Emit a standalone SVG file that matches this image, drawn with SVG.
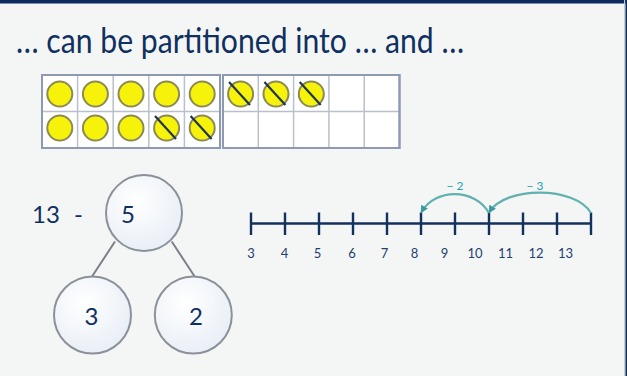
<svg xmlns="http://www.w3.org/2000/svg" width="627" height="376" viewBox="0 0 627 376">
<defs>
<style>
.t{font-family:Lato,"Liberation Sans",sans-serif;fill:#10305f}
.grid{fill:none;stroke:#b9c0cc;stroke-width:1.5}
.frame{fill:#ffffff;stroke:#8d9ab2;stroke-width:2}
.cnt{fill:#f7f20a;stroke:#8b8a55;stroke-width:2}
.x{stroke:#1f3550;stroke-width:2.2}
.bond{fill:url(#bg);stroke:#8b9099;stroke-width:2}
.link{stroke:#7d8088;stroke-width:2}
.nl{stroke:#13315f;stroke-width:2.4}
.arc{fill:none;stroke:#62b0b0;stroke-width:2.2;marker-end:url(#ah)}
.lab{font-family:Lato,"Liberation Sans",sans-serif;fill:#1f4070;font-size:13px;text-anchor:middle}
.jl{font-family:Lato,"Liberation Sans",sans-serif;fill:#2aa0b0;font-size:12px}
</style>
<radialGradient id="bg" cx="0.4" cy="0.35" r="0.7">
<stop offset="0" stop-color="#ffffff"/>
<stop offset="1" stop-color="#e8eef6"/>
</radialGradient>
<marker id="ah" viewBox="0 0 10 10" refX="8" refY="5" markerWidth="3.5" markerHeight="3.5" orient="auto">
<path d="M0,0 L10,5 L0,10 z" fill="#3c9a9c"/>
</marker>
</defs>
<rect width="627" height="376" fill="#f4f6f6"/>
<rect x="0" y="0" width="627" height="3.5" fill="#0d2b5c"/>
<rect x="624" y="0" width="1.2" height="376" fill="#c8ccd0"/>
<rect x="625.5" y="0" width="1.5" height="376" fill="#0d2b5c"/>

<g id="title">
<text class="t" x="16" y="53" font-size="34" textLength="448" lengthAdjust="spacingAndGlyphs">… can be partitioned into … and …</text>
</g>

<g id="tenframe-left">
<rect class="frame" x="42" y="75" width="178" height="73"/>
<path class="grid" d="M77.6,75V148M113.2,75V148M148.8,75V148M184.4,75V148M42,111.5H220"/>
<rect x="42" y="75" width="178" height="73" fill="none" stroke="#8d9ab2" stroke-width="2"/>
<circle class="cnt" cx="59.8" cy="94" r="12.5"/>
<circle class="cnt" cx="95.4" cy="94" r="12.5"/>
<circle class="cnt" cx="131" cy="94" r="12.5"/>
<circle class="cnt" cx="166.6" cy="94" r="12.5"/>
<circle class="cnt" cx="202.2" cy="94" r="12.5"/>
<circle class="cnt" cx="59.8" cy="128" r="12.5"/>
<circle class="cnt" cx="95.4" cy="128" r="12.5"/>
<circle class="cnt" cx="131" cy="128" r="12.5"/>
<circle class="cnt" cx="166.6" cy="128" r="12.5"/>
<line class="x" x1="155" y1="116" x2="176" y2="139"/>
<circle class="cnt" cx="202.2" cy="128" r="12.5"/>
<line class="x" x1="190.6" y1="116" x2="211.6" y2="139"/>
</g>

<g id="tenframe-right">
<rect class="frame" x="223" y="75" width="176.5" height="73"/>
<path class="grid" d="M258.3,75V148M293.6,75V148M328.9,75V148M364.2,75V148M223,111.5H399.5"/>
<rect x="223" y="75" width="176.5" height="73" fill="none" stroke="#8d9ab2" stroke-width="2"/>
<circle class="cnt" cx="240.6" cy="94" r="12.5"/>
<line class="x" x1="229" y1="82" x2="250" y2="105"/>
<circle class="cnt" cx="276" cy="94" r="12.5"/>
<line class="x" x1="264.4" y1="82" x2="285.4" y2="105"/>
<circle class="cnt" cx="311.3" cy="94" r="12.5"/>
<line class="x" x1="299.7" y1="82" x2="320.7" y2="105"/>
</g>

<g id="connectors">
<line class="link" x1="115" y1="241.5" x2="91.7" y2="277"/>
<line class="link" x1="171.7" y1="241.5" x2="195" y2="277"/>
</g>

<g id="label-13">
<text class="t" x="32" y="222.5" font-size="24">13</text>
<text class="t" x="74" y="222.5" font-size="24">-</text>
</g>

<g id="bond-top">
<circle class="bond" cx="144" cy="213" r="38"/>
<text class="t" x="128" y="223" font-size="24" text-anchor="middle">5</text>
</g>
<g id="bond-left">
<circle class="bond" cx="92.5" cy="315" r="38.5"/>
<text class="t" x="91.5" y="325" font-size="24" text-anchor="middle">3</text>
</g>
<g id="bond-right">
<circle class="bond" cx="193.3" cy="315" r="38.5"/>
<text class="t" x="196" y="325" font-size="24" text-anchor="middle">2</text>
</g>

<g id="numberline">
<line class="nl" x1="251" y1="223.5" x2="591" y2="223.5"/>
<path class="nl" d="M251,212.5V235M285,212.5V235M319,212.5V235M353,212.5V235M387,212.5V235M421,212.5V235M455,212.5V235M489,212.5V235M523,212.5V235M557,212.5V235M591,212.5V235"/>
<text class="lab" x="251" y="257.5">3</text>
<text class="lab" x="284.5" y="257.5">4</text>
<text class="lab" x="317.5" y="257.5">5</text>
<text class="lab" x="352" y="257.5">6</text>
<text class="lab" x="384.5" y="257.5">7</text>
<text class="lab" x="414.5" y="257.5">8</text>
<text class="lab" x="444.5" y="257.5">9</text>
<text class="lab" x="475" y="257.5">10</text>
<text class="lab" x="505.5" y="257.5">11</text>
<text class="lab" x="536" y="257.5">12</text>
<text class="lab" x="565.5" y="257.5">13</text>
</g>

<g id="jumps">
<path class="arc" d="M489,213 C475,188 435,188 421.5,212"/>
<path class="arc" d="M591,213 C575,186 505,186 489.5,212"/>
<text class="jl" x="446.5" y="190">− 2</text>
<text class="jl" x="526.5" y="190">− 3</text>
</g>
</svg>
